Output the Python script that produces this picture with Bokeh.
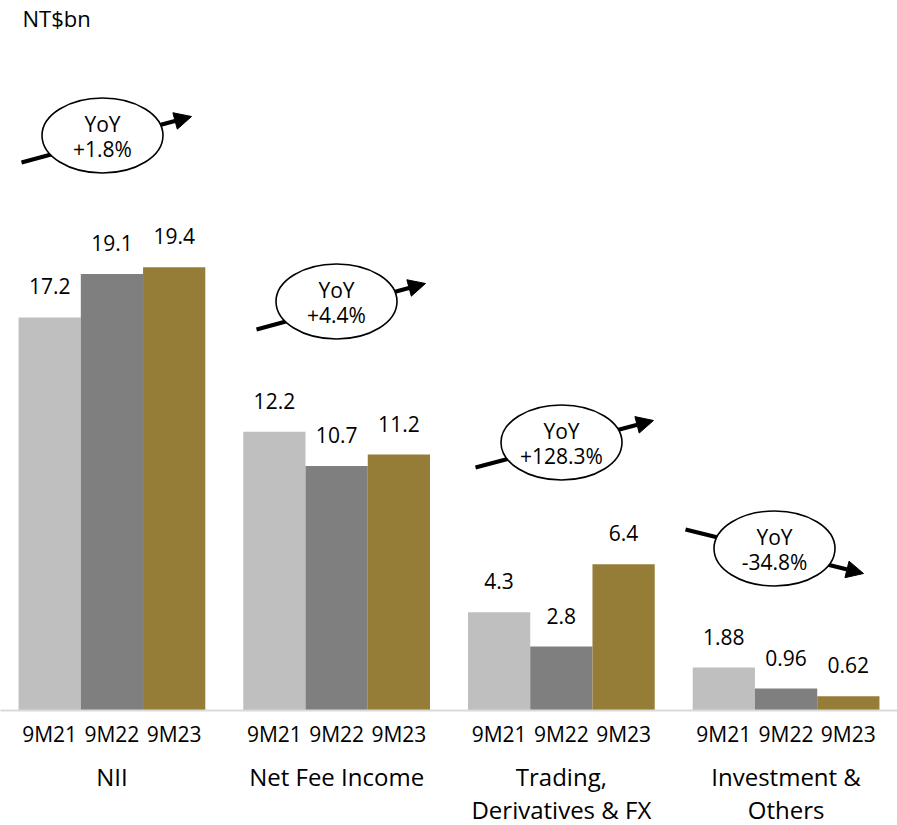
from bokeh.plotting import figure
from bokeh.models import (ColumnDataSource, FactorRange, Range1d, Arrow,
                          NormalHead)
from bokeh.core.properties import value
from bokeh.embed import file_html
from bokeh.resources import INLINE

# --- data -----------------------------------------------------------------
categories = ["NII", "Net Fee Income", "Trading,\nDerivatives & FX",
              "Investment &\nOthers"]
periods = ["9M21", "9M22", "9M23"]
nii = [17.2, 19.1, 19.4]
net_fee = [12.2, 10.7, 11.2]
trading = [4.3, 2.8, 6.4]
investment = [1.88, 0.96, 0.62]
value_labels = ["17.2", "19.1", "19.4", "12.2", "10.7", "11.2",
                "4.3", "2.8", "6.4", "1.88", "0.96", "0.62"]
yoy_labels = ["+1.8%", "+4.4%", "+128.3%", "-34.8%"]

period_colors = ["#BFBFBF", "#7F7F7F", "#967D37"]
FONT = "Open Sans"

series = [nii, net_fee, trading, investment]
x = [(c, p) for c in categories for p in periods]
vals = [v for s in series for v in s]
colors = [period_colors[i % 3] for i in range(len(x))]
source = ColumnDataSource(dict(x=x, top=vals, color=colors,
                               label=value_labels))

W, H = 897, 825
FRAME_H = 710
PX_PER_UNIT = 22.85
GROUP_PAD = 0.61
RANGE_PAD = 0.29

x_range = FactorRange(*x, group_padding=GROUP_PAD, factor_padding=0.0,
                      range_padding=RANGE_PAD, range_padding_units="absolute")

p = figure(
    frame_width=W, frame_height=FRAME_H,
    x_range=x_range,
    y_range=Range1d(0, FRAME_H / PX_PER_UNIT),
    output_backend="svg", toolbar_location=None, y_axis_location=None,
    min_border_left=0, min_border_right=0, min_border_top=0,
    min_border_bottom=H - FRAME_H,
)
p.outline_line_color = None
p.grid.visible = False
p.background_fill_color = "white"
p.border_fill_color = "white"

# callouts are placed in frame pixels: y through an extra range,
# x through the factor range's synthetic (numeric) coordinates
p.extra_y_ranges = {"py": Range1d(FRAME_H, 0)}
span = len(x) + (len(categories) - 1) * GROUP_PAD + 2 * RANGE_PAD


def sx(px):
    return px * span / W - RANGE_PAD


# --- bars -----------------------------------------------------------------
p.vbar(x="x", top="top", width=1.0, source=source, fill_color="color",
       line_color=None)

p.text(x="x", y="top", text="label", source=source, y_offset=-31,
       text_align="center", text_baseline="alphabetic",
       text_font=value(FONT), text_font_size="21px", text_color="#000000")

# --- axis -----------------------------------------------------------------
ax = p.xaxis[0]
ax.axis_line_color = "#D9D9D9"
ax.axis_line_width = 2
ax.major_tick_line_color = None
ax.minor_tick_line_color = None
ax.major_tick_in = 0
ax.major_tick_out = 0
ax.major_label_text_font = FONT
ax.major_label_text_font_size = "21px"
ax.major_label_text_color = "#000000"
ax.major_label_standoff = 9
ax.group_text_font = FONT
ax.group_text_font_size = "24px"
ax.group_text_font_style = "normal"
ax.group_text_color = "#000000"
ax.group_text_line_height = 1.0
ax.separator_line_alpha = 0

# --- unit label ---------------------------------------------------------
p.text(x=[sx(22)], y=[17], text=["NT$bn"], y_range_name="py",
       text_font=value(FONT), text_font_size="22px", text_baseline="middle",
       text_color="#000000")

# --- YoY callouts ---------------------------------------------------------
callout_cx = [102, 336, 561, 774]
callout_cy = [135, 301, 442, 548]
arrow_start = [(21, 162), (256, 329), (475, 467), (685, 529)]
arrow_end = [(191, 116), (425, 283), (653, 420), (863, 573)]

for (x0, y0), (x1, y1) in zip(arrow_start, arrow_end):
    p.add_layout(Arrow(
        x_start=sx(x0), y_start=y0, x_end=sx(x1), y_end=y1,
        y_range_name="py",
        line_color="black", line_width=4, level="underlay",
        end=NormalHead(size=17, fill_color="black", line_color="black",
                       line_width=1)))

cx = [sx(v) for v in callout_cx]
p.ellipse(x=cx, y=callout_cy, width=121, height=75,
          width_units="screen", height_units="screen",
          y_range_name="py",
          fill_color="white", line_color="black", line_width=1.6)

p.text(x=cx, y=[c - 12 for c in callout_cy], text=["YoY"] * 4,
       y_range_name="py", text_align="center",
       text_baseline="middle", text_font=value(FONT), text_font_size="21px",
       text_color="#000000")
p.text(x=cx, y=[c + 13 for c in callout_cy], text=yoy_labels,
       y_range_name="py", text_align="center",
       text_baseline="middle", text_font=value(FONT), text_font_size="21px",
       text_color="#000000")

open("out.html", "w").write(file_html(p, INLINE))
